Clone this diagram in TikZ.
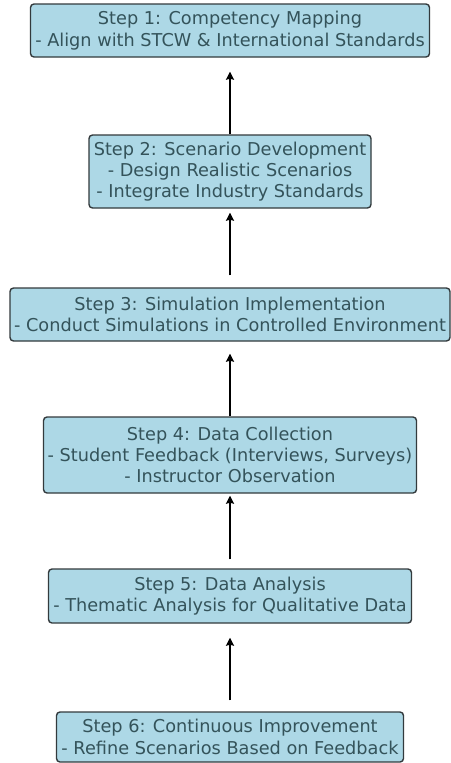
\documentclass[tikz,border=0pt]{standalone}
\usepackage{fontspec}
\setmainfont{DejaVu Sans}
\usetikzlibrary{arrows.meta}
\definecolor{boxfill}{HTML}{ADD8E6}
\definecolor{boxline}{HTML}{333A3D}
\definecolor{boxtext}{HTML}{34535A}
\begin{document}
\begin{tikzpicture}[x=1pt,y=-1pt,
  stepbox/.style={draw=boxline, line width=1.4pt, fill=boxfill, rounded corners=3.5pt,
    text=boxtext, align=center, inner sep=0pt,
    font=\fontsize{17.7}{21.3}\selectfont},
  flow/.style={line width=2.6pt, -{Stealth[length=8pt,width=8pt,inset=1pt]}}]
\useasboundingbox[fill=white] (0,0) rectangle (450,763);

\node[stepbox, minimum width=399pt, minimum height=53pt] (b1) at (230,30.5)
  {Step 1: Competency Mapping\\- Align with STCW \& International Standards};
\node[stepbox, minimum width=282pt, minimum height=73pt] (b2) at (230,171.5)
  {Step 2: Scenario Development\\- Design Realistic Scenarios\\- Integrate Industry Standards};
\node[stepbox, minimum width=440pt, minimum height=53pt] (b3) at (230,314.5)
  {Step 3: Simulation Implementation\\- Conduct Simulations in Controlled Environment};
\node[stepbox, minimum width=373pt, minimum height=76pt] (b4) at (230,455)
  {Step 4: Data Collection\\- Student Feedback (Interviews, Surveys)\\- Instructor Observation};
\node[stepbox, minimum width=363pt, minimum height=54pt] (b5) at (230,596)
  {Step 5: Data Analysis\\- Thematic Analysis for Qualitative Data};
\node[stepbox, minimum width=347pt, minimum height=50pt] (b6) at (230,737)
  {Step 6: Continuous Improvement\\- Refine Scenarios Based on Feedback};

\draw[flow, shorten >=14pt] (b2.north) -- (b1.south);
\draw[flow, shorten <=12pt, shorten >=4pt] (b3.north) -- (b2.south);
\draw[flow, shorten >=12pt] (b4.north) -- (b3.south);
\draw[flow, shorten <=9pt, shorten >=2pt] (b5.north) -- (b4.south);
\draw[flow, shorten <=11pt, shorten >=14pt] (b6.north) -- (b5.south);
\end{tikzpicture}
\end{document}
